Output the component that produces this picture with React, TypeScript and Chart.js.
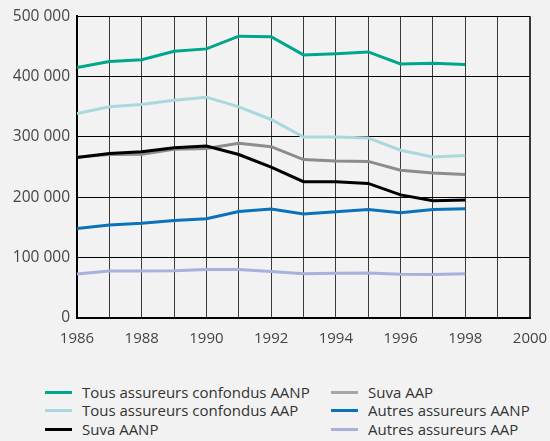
import React, { useEffect, useRef } from "react";
import { Chart, registerables } from "chart.js";

Chart.register(...registerables);

const years = [1986, 1987, 1988, 1989, 1990, 1991, 1992, 1993, 1994, 1995, 1996, 1997, 1998];
const tousAANP = [415000, 425000, 428000, 442000, 446000, 467000, 466000, 436000, 438000, 441000, 421000, 422000, 420000];
const tousAAP = [339000, 350000, 354000, 361000, 366000, 350000, 329000, 300000, 300000, 298500, 278000, 267000, 269500];
const suvaAANP = [266000, 272500, 275500, 282000, 285000, 271000, 250000, 226000, 226000, 223000, 204000, 194500, 195500];
const suvaAAP = [267000, 271000, 271500, 279500, 281000, 289500, 284000, 262500, 260000, 259500, 245000, 240500, 238000];
const autresAANP = [148500, 154000, 157000, 161500, 164500, 176500, 180500, 172500, 176000, 180000, 174500, 180000, 181000];
const autresAAP = [73000, 78000, 78000, 78500, 80500, 80500, 77000, 73500, 74000, 74500, 72500, 72000, 73500];

const seriesNames = [
  "Tous assureurs confondus AANP",
  "Tous assureurs confondus AAP",
  "Suva AANP",
  "Suva AAP",
  "Autres assureurs AANP",
  "Autres assureurs AAP",
];
const seriesColors = ["#00a68c", "#a9d9de", "#000000", "#8c8c8c", "#0a72ba", "#a7b2dc"];
const legendColors = ["#00a68c", "#a9d9de", "#000000", "#a6a6a6", "#0a72ba", "#a7b2dc"];
const seriesValues = [tousAANP, tousAAP, suvaAANP, suvaAAP, autresAANP, autresAAP];

const FONT = "'Open Sans', 'Liberation Sans', sans-serif";

export default function App() {
  const ref = useRef<HTMLCanvasElement | null>(null);

  useEffect(() => {
    document.body.style.margin = "0";
    document.body.style.background = "#f2f2f2";
    const canvas = ref.current;
    if (!canvas) return;
    const chart = new Chart(canvas, {
      type: "line",
      data: {
        datasets: seriesValues.map((vals, i) => ({
          label: seriesNames[i],
          data: vals.map((v, j) => ({ x: years[j], y: v })),
          borderColor: seriesColors[i],
          backgroundColor: seriesColors[i],
          borderWidth: 3,
          pointRadius: 0,
          tension: 0,
          fill: false,
          order: i === 2 ? 0 : i + 1,
        })),
      },
      options: {
        responsive: false,
        animation: false,
        maintainAspectRatio: false,
        layout: { padding: { top: 16, right: 20, left: 0, bottom: 0 } },
        plugins: {
          legend: { display: false },
          tooltip: { enabled: false },
        },
        scales: {
          x: {
            type: "linear",
            min: 1986,
            max: 2000,
            afterFit: (s: any) => {
              s.height = 30;
              s.paddingLeft = 0;
              s.paddingRight = 0;
            },
            ticks: {
              stepSize: 1,
              autoSkip: false,
              maxRotation: 0,
              padding: 12,
              color: "#444",
              font: { family: FONT, size: 15 },
              callback: (v: any) => (Number(v) % 2 === 0 ? String(v) : ""),
            },
            grid: {
              color: "#3a3a3a",
              lineWidth: (ctx: any) => (ctx.tick && ctx.tick.value === 2000 ? 2 : 1),
              drawTicks: false,
            },
            border: { display: true, color: "#000", width: 2 },
          },
          y: {
            min: 0,
            max: 500000,
            afterFit: (s: any) => {
              s.width = 77;
            },
            ticks: {
              stepSize: 100000,
              padding: 7,
              color: "#444",
              font: { family: FONT, size: 15.5 },
              callback: (v: any) =>
                Number(v) === 0 ? "0" : String(Number(v) / 1000) + " 000",
            },
            grid: {
              color: "#000",
              lineWidth: 1,
              drawTicks: false,
            },
            border: { display: true, color: "#000", width: 2 },
          },
        },
      },
    });
    return () => chart.destroy();
  }, []);

  const col1 = [0, 1, 2];
  const col2 = [3, 4, 5];
  const rowY = [392, 410, 429];

  const item = (i: number, row: number, swX: number, txX: number) => (
    <React.Fragment key={i}>
      <div
        style={{
          position: "absolute",
          left: swX,
          top: rowY[row] - 1.5,
          width: 27,
          height: 3,
          background: legendColors[i],
        }}
      />
      <div
        style={{
          position: "absolute",
          left: txX,
          top: rowY[row] - 10,
          height: 20,
          lineHeight: "20px",
          fontFamily: FONT,
          fontSize: 15,
          color: "#333",
          whiteSpace: "nowrap",
        }}
      >
        {seriesNames[i]}
      </div>
    </React.Fragment>
  );

  return (
    <div style={{ position: "relative", width: 550, height: 441, background: "#f2f2f2", overflow: "hidden" }}>
      <canvas ref={ref} width={550} height={348} style={{ display: "block", width: 550, height: 348 }} />
      {col1.map((i, r) => item(i, r, 45, 82))}
      {col2.map((i, r) => item(i, r, 331, 368))}
    </div>
  );
}
